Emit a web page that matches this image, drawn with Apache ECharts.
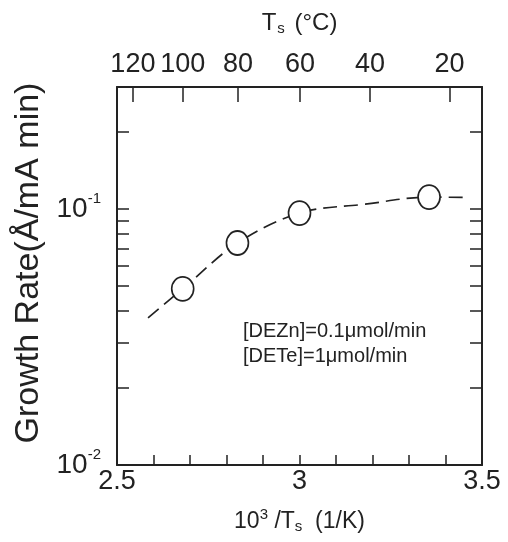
<!DOCTYPE html>
<html>
<head>
<meta charset="utf-8">
<script src="https://cdn.jsdelivr.net/npm/echarts@6/dist/echarts.min.js"></script>
<style>html,body{margin:0;padding:0;background:#fff;}#c{width:508px;height:542px;}</style>
</head>
<body>
<div id="c"></div>
<script>
// Data
const invT = [2.68, 2.83, 3.00, 3.355];            // 10^3/Ts (1/K)
const growthRate = [0.0488, 0.0737, 0.0965, 0.1114]; // Å/mA min
const fitX = [2.585, 2.68, 2.83, 3.00, 3.18, 3.355, 3.46];
const fitY = [0.0376, 0.0488, 0.0737, 0.0965, 0.1045, 0.1114, 0.1110];
const celsiusTicks = [120, 100, 80, 60, 40, 20];
const xLabels = [2.5, 3, 3.5];
const yLabels = [0.01, 0.1];
const yTicks = [0.01, 0.02, 0.03, 0.04, 0.05, 0.06, 0.07, 0.08, 0.09, 0.1, 0.2];
const notes = ['[DEZn]=0.1\u03bcmol/min', '[DETe]=1\u03bcmol/min'];

const FONT = '"Liberation Sans", Arial, sans-serif';
const INK = '#222';
const topVals = celsiusTicks.map(c => 1000 / (c + 273.15));

const chart = echarts.init(document.getElementById('c'), null, {renderer: 'canvas'});
const axisLine = {show: true, lineStyle: {color: INK, width: 2}};
chart.setOption({
  backgroundColor: '#fff',
  animation: false,
  textStyle: {fontFamily: FONT, color: INK},
  grid: {left: 117, right: 26, top: 87, bottom: 77},
  xAxis: [{
    type: 'value', position: 'bottom', min: 2.5, max: 3.5, interval: 0.1,
    axisLine: axisLine,
    axisTick: {inside: true, length: 10, lineStyle: {color: INK, width: 1.5}},
    axisLabel: {customValues: xLabels, fontSize: 27, color: INK, margin: 3, fontFamily: FONT,
      formatter: v => String(Math.round(v * 10) / 10)},
    splitLine: {show: false},
    name: '{n|10}{sup|3}{n| /T}{sub|s}{n|  (1/K)}',
    nameLocation: 'middle', nameGap: 42,
    nameTextStyle: {fontFamily: FONT, color: INK, rich: {
      n: {fontSize: 23, fontFamily: FONT, color: INK},
      sup: {fontSize: 15, fontFamily: FONT, color: INK, padding: [0, 0, 15, 0]},
      sub: {fontSize: 15, fontFamily: FONT, color: INK, padding: [10, 0, 0, 0]}
    }}
  }, {
    type: 'value', position: 'top', min: 2.5, max: 3.5,
    axisLine: axisLine,
    axisTick: {inside: true, length: 15, customValues: topVals, lineStyle: {color: INK, width: 1.5}},
    axisLabel: {customValues: topVals, fontSize: 27, color: INK, margin: 9, fontFamily: FONT,
      formatter: v => String(Math.round(1000 / v - 273.15))},
    splitLine: {show: false},
    name: '{n|T}{sub|s}{n| (\u00b0C)}',
    nameLocation: 'middle', nameGap: 51,
    nameTextStyle: {fontFamily: FONT, color: INK, rich: {
      n: {fontSize: 24, fontFamily: FONT, color: INK},
      sub: {fontSize: 15, fontFamily: FONT, color: INK, padding: [10, 3, 0, 1]}
    }}
  }],
  yAxis: [{
    type: 'log', logBase: 10, min: 0.01, max: 0.3, position: 'left',
    axisLine: axisLine,
    axisTick: {inside: true, length: 12, customValues: yTicks, lineStyle: {color: INK, width: 1.5}},
    axisLabel: {customValues: yLabels, margin: 16, fontFamily: FONT, color: INK,
      formatter: v => '{b|10}{s|-' + Math.round(-Math.log10(v)) + '}',
      rich: {
        b: {fontSize: 28, fontFamily: FONT, color: INK},
        s: {fontSize: 15, fontFamily: FONT, color: INK, padding: [0, 0, 20, 0]}
      }},
    splitLine: {show: false}, minorTick: {show: false},
    name: 'Growth Rate(\u00c5/mA min)', nameLocation: 'middle', nameGap: 60, nameRotate: 90,
    nameTextStyle: {fontSize: 34, fontFamily: FONT, color: INK, padding: [0, 0, 0, 26]}
  }, {
    type: 'log', logBase: 10, min: 0.01, max: 0.3, position: 'right',
    axisLine: axisLine,
    axisTick: {inside: true, length: 12, customValues: yTicks, lineStyle: {color: INK, width: 1.5}},
    axisLabel: {show: false},
    splitLine: {show: false}
  }],
  series: [{
    type: 'line', xAxisIndex: 0, yAxisIndex: 0, smooth: 0.35, symbol: 'none', z: 2,
    data: fitX.map((x, i) => [x, fitY[i]]),
    lineStyle: {color: INK, width: 1.7, type: [14, 7]}
  }, {
    type: 'scatter', xAxisIndex: 0, yAxisIndex: 0, symbol: 'circle', symbolSize: [22, 24], z: 3,
    data: invT.map((x, i) => [x, growthRate[i]]),
    itemStyle: {color: '#fff', borderColor: INK, borderWidth: 1.7, opacity: 1}
  }],
  graphic: notes.map((t, i) => ({
    type: 'text', left: 243, top: 321 + i * 25,
    style: {text: t, fontSize: 20, fontFamily: FONT, fill: INK}
  }))
});
</script>
</body>
</html>
